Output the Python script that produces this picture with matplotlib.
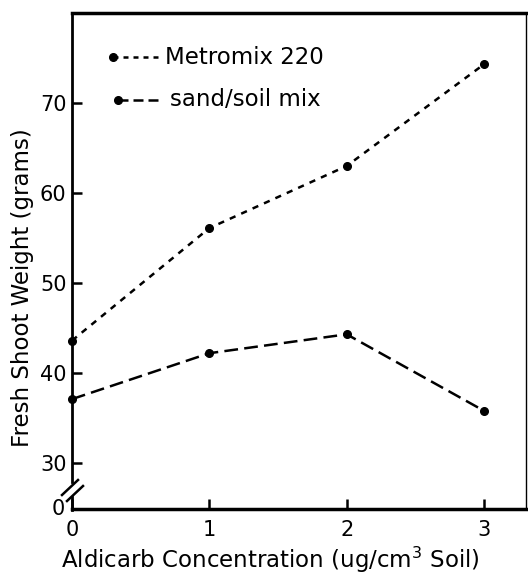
import matplotlib
matplotlib.use("Agg")
import matplotlib.pyplot as plt
from matplotlib.lines import Line2D

plt.rcParams['font.family'] = ['DejaVu Sans']

concentration = [0, 1, 2, 3]
metromix = [43.6, 56.1, 63.0, 74.3]
sand_soil = [37.1, 42.2, 44.3, 35.8]
xticks = [0, 1, 2, 3]
yticks = [30, 40, 50, 60, 70]
ytick_labels = ["30", "40", "50", "60", "70"]
series_names = ["Metromix 220", "sand/soil mix"]

W, H = 528, 578
fig = plt.figure(figsize=(W / 100, H / 100), dpi=100)

def fx(px):
    return px / W

def fy(py):
    return 1 - py / H

ax = fig.add_axes([fx(72), fy(509), fx(526) - fx(72), fy(13) - fy(509)])
ax.set_xlim(0, 3.306)
ax.set_ylim(24.89, 80)

ax.plot(concentration, metromix, color='black', lw=1.8, dashes=(2.5, 2.5),
        marker='o', ms=5.5, clip_on=False, zorder=3)
ax.plot(concentration, sand_soil, color='black', lw=1.8, dashes=(5.5, 2.5),
        marker='o', ms=5.5, clip_on=False, zorder=3)

TICK_FS = 15
LABEL_FS = 16.5

ax.set_xticks(xticks)
ax.set_xticklabels([str(v) for v in xticks], fontsize=TICK_FS)
ax.set_yticks(yticks)
ax.set_yticklabels(ytick_labels, fontsize=TICK_FS)
ax.tick_params(axis='both', direction='in', length=7, width=1.8, color='black')
ax.tick_params(axis='y', pad=4)
ax.tick_params(axis='x', pad=8)

ax.spines['top'].set_linewidth(2.5)
ax.spines['bottom'].set_linewidth(2.5)
ax.spines['right'].set_linewidth(1.0)
ax.spines['left'].set_linewidth(2.0)
ax.spines['left'].set_bounds(27.9, 80)

# lower segment of the broken y-axis
fig.add_artist(Line2D([fx(72), fx(72)], [fy(497), fy(510)], color='black', lw=2.0))
# break marks
fig.add_artist(Line2D([fx(62), fx(78)], [fy(495), fy(480)], color='black', lw=1.8))
fig.add_artist(Line2D([fx(67), fx(83)], [fy(501), fy(486)], color='black', lw=1.8))
# "0" label at broken axis bottom
fig.text(fx(58), fy(509), "0", fontsize=TICK_FS, ha='center', va='center')

fig.text(fx(270), fy(560), "Aldicarb Concentration (ug/cm$^3$ Soil)", fontsize=LABEL_FS,
         ha='center', va='center')
fig.text(fx(23), fy(288), "Fresh Shoot Weight (grams)", fontsize=LABEL_FS,
         ha='center', va='center', rotation=90)

# legend drawn manually
fig.add_artist(Line2D([fx(113), fx(162)], [fy(57), fy(57)], color='black', lw=1.8,
                      dashes=(2.0, 2.0)))
fig.add_artist(Line2D([fx(113)], [fy(57)], color='black', marker='o', ms=5.5))
fig.text(fx(165), fy(57), series_names[0], fontsize=LABEL_FS, ha='left', va='center')
fig.add_artist(Line2D([fx(118), fx(158)], [fy(100), fy(100)], color='black', lw=1.8,
                      dashes=(4.0, 2.0)))
fig.add_artist(Line2D([fx(118)], [fy(100)], color='black', marker='o', ms=5.5))
fig.text(fx(170), fy(100), series_names[1], fontsize=LABEL_FS, ha='left', va='center')

fig.savefig("out.png", dpi=100)
